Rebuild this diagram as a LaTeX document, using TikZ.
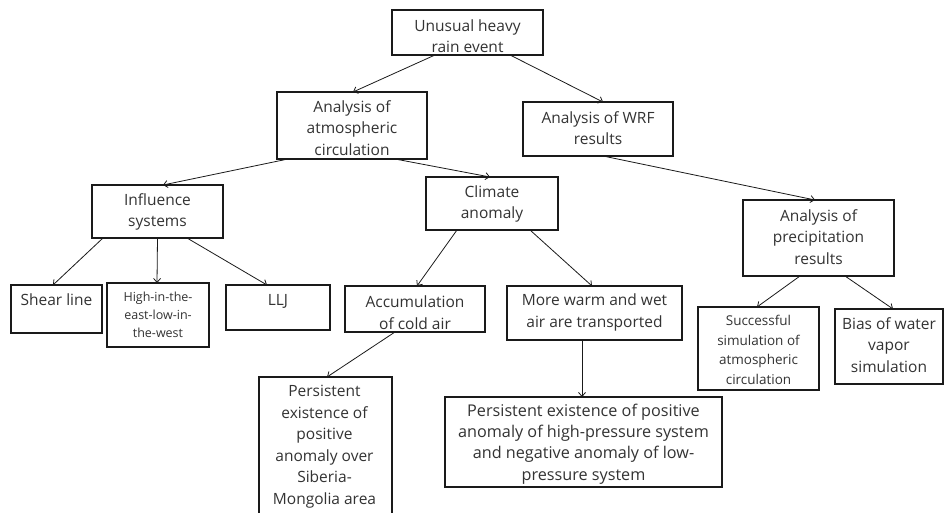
\documentclass[tikz,border=0pt]{standalone}
\usepackage{fontspec}
\setmainfont{Open Sans}
\usetikzlibrary{arrows.meta}
\definecolor{txtc}{HTML}{333333}
\definecolor{linec}{HTML}{1A1A1A}
\begin{document}
\begin{tikzpicture}[x=1pt,y=-1pt,
  bxs/.style={draw=linec,line width=1.4pt,inner sep=0pt,outer sep=0pt,rectangle},
  tx/.style={text=txtc,align=center,inner sep=0pt,font=\fontsize{15.5}{21.5}\selectfont},
  txl/.style={tx,font=\fontsize{16.2}{21.3}\selectfont},
  txs/.style={tx,font=\fontsize{12.5}{18}\selectfont},
  txm/.style={tx,font=\fontsize{13.5}{19.5}\selectfont},
  arr/.style={draw=linec,line width=0.8pt,-{Straight Barb[length=4pt,width=7pt]}}]
\clip (0,0) rectangle (944,513);
\fill[white] (0,0) rectangle (944,513);
% boxes
\node[bxs,minimum width=151pt,minimum height=45pt] (top) at (467.5,32.5) {};
\node[bxs,minimum width=150pt,minimum height=67pt] (atmos) at (352,125.5) {};
\node[bxs,minimum width=150pt,minimum height=54pt] (wrf) at (598,129) {};
\node[bxs,minimum width=131pt,minimum height=53pt] (infl) at (157.5,211.5) {};
\node[bxs,minimum width=132pt,minimum height=53pt] (clim) at (492,203.5) {};
\node[bxs,minimum width=151pt,minimum height=76pt] (prec) at (818.5,238) {};
\node[bxs,minimum width=91pt,minimum height=48pt] (shear) at (56.5,309) {};
\node[bxs,minimum width=102pt,minimum height=64pt] (high) at (158,315) {};
\node[bxs,minimum width=104pt,minimum height=45pt] (llj) at (278,307.5) {};
\node[bxs,minimum width=140pt,minimum height=46pt] (accum) at (415,309) {};
\node[bxs,minimum width=175pt,minimum height=54pt] (warm) at (594.5,313) {};
\node[bxs,minimum width=121pt,minimum height=83pt] (succ) at (758.5,348.5) {};
\node[bxs,minimum width=108pt,minimum height=75pt] (bias) at (889,346.5) {};
\node[bxs,minimum width=133pt,minimum height=153pt] (persa) at (325.5,453.5) {};
\node[bxs,minimum width=277pt,minimum height=90pt] (persb) at (583.5,442) {};
% texts
\node[tx] (top-t) at (467.5,36) {Unusual heavy\\rain event};
\node[tx] (atmos-t) at (352,128) {Analysis of\\atmospheric\\circulation};
\node[tx] (wrf-t) at (598,128) {Analysis of WRF\\results};
\node[tx] (infl-t) at (157.5,212) {Influence\\systems};
\node[tx] (clim-t) at (492,204) {Climate\\anomaly};
\node[tx] (prec-t) at (818.5,237) {Analysis of\\precipitation\\results};
\node[tx] (shear-t) at (56.5,300) {Shear line};
\node[txs] (high-t) at (158,315) {High-in-the-\\east-low-in-\\the-west};
\node[tx] (llj-t) at (278,301) {LLJ};
\node[tx] (accum-t) at (415,312.5) {Accumulation\\of cold air};
\node[tx] (warm-t) at (594.5,312.5) {More warm and wet\\air are transported};
\node[txm] (succ-t) at (758.5,350) {Successful\\simulation of\\atmospheric\\circulation};
\node[tx] (bias-t) at (889,345) {Bias of water\\vapor\\simulation};
\node[tx] (persa-t) at (324.5,446.5) {Persistent\\existence of\\positive\\anomaly over\\Siberia-\\Mongolia area};
\node[txl] (persb-t) at (583.5,444) {Persistent existence of positive\\anomaly of high-pressure system\\and negative anomaly of low-\\pressure system};
% connectors
\draw[arr] ([xshift=-32.5pt]top.south) -- ([xshift=1pt]atmos.north);
\draw[arr] ([xshift=42.5pt]top.south) -- ([xshift=5pt]wrf.north);
\draw[arr] ([xshift=-64pt]atmos.south) -- ([xshift=5.5pt]infl.north);
\draw[arr] ([xshift=43pt]atmos.south) -- ([xshift=-2pt]clim.north);
\draw[arr] ([xshift=5pt]wrf.south) -- ([xshift=-3.5pt]prec.north);
\draw[arr] ([xshift=-54.5pt]infl.south) -- ([xshift=-3.5pt]shear.north);
\draw[arr] ([xshift=0pt]infl.south) -- ([xshift=-1pt]high.north);
\draw[arr] ([xshift=29.5pt]infl.south) -- ([xshift=-11pt]llj.north);
\draw[arr] ([xshift=-35pt]clim.south) -- ([xshift=2pt]accum.north);
\draw[arr] ([xshift=38pt]clim.south) -- ([xshift=-2.5pt]warm.north);
\draw[arr] ([xshift=-20pt]accum.south) -- ([xshift=1.5pt]persa.north);
\draw[arr] ([xshift=-12.5pt]warm.south) -- ([xshift=-1.5pt]persb.north);
\draw[arr] ([xshift=-18.5pt]prec.south) -- ([xshift=-1.5pt]succ.north);
\draw[arr] ([xshift=26.5pt]prec.south) -- ([xshift=4pt]bias.north);
\end{tikzpicture}
\end{document}
